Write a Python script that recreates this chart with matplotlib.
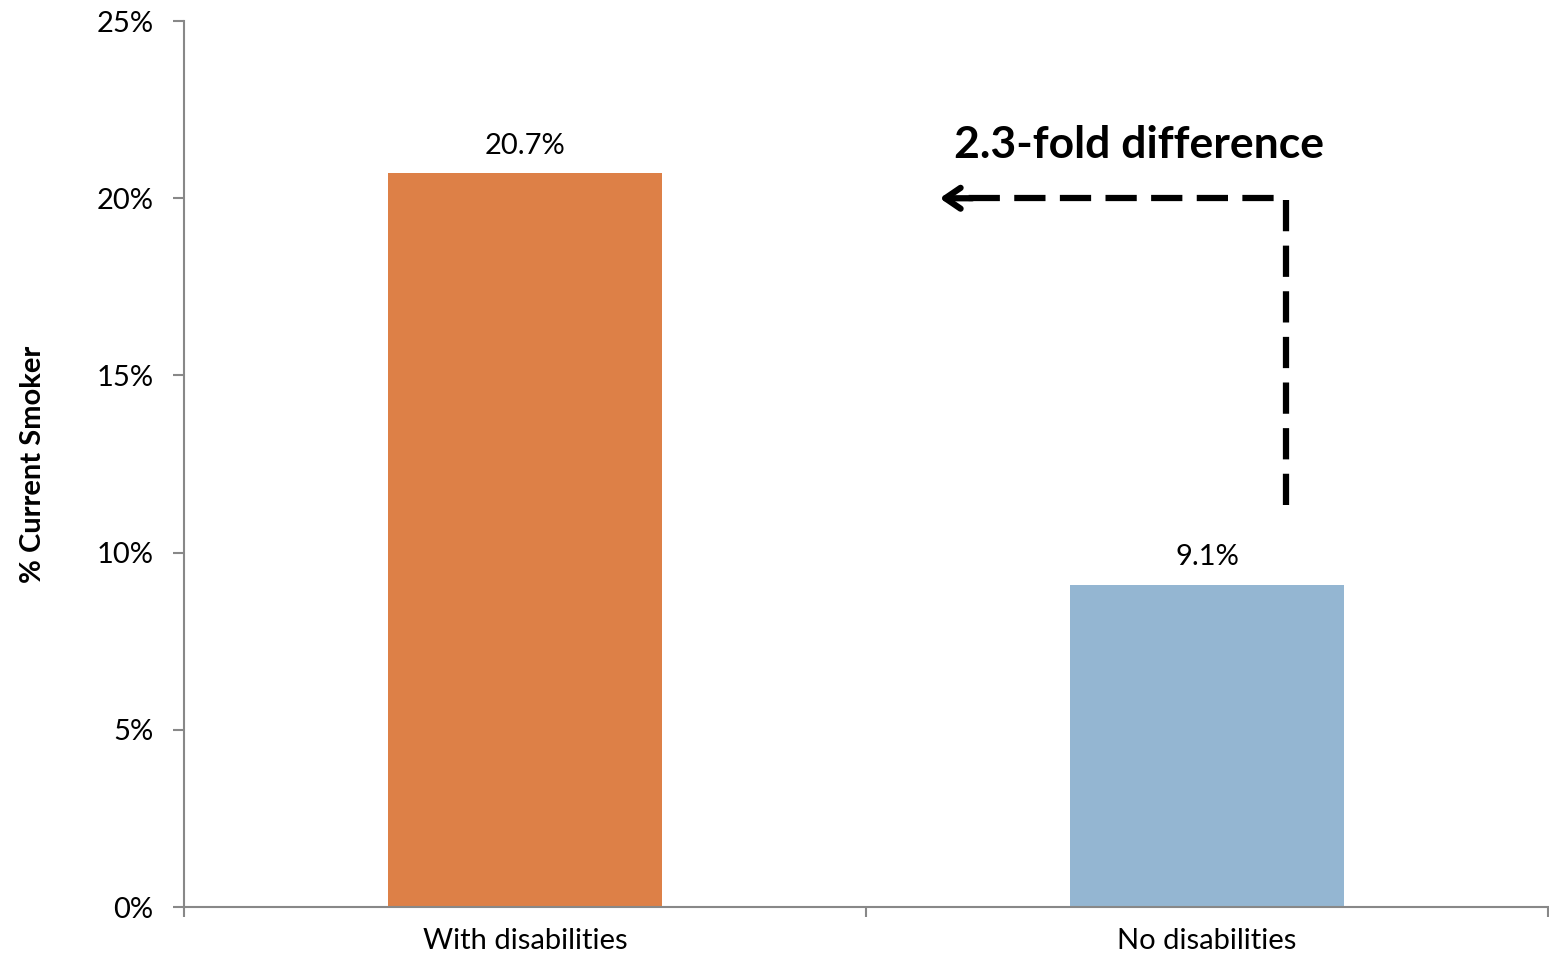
import matplotlib
matplotlib.use('Agg')
import matplotlib.pyplot as plt

categories = ["With disabilities", "No disabilities"]
values = [20.7, 9.1]
bar_colors = ["#DD8047", "#94B6D2"]
yticks = [0, 5, 10, 15, 20, 25]

plt.rcParams['font.family'] = ['Lato', 'DejaVu Sans']

fig = plt.figure(figsize=(15.49, 9.57), dpi=100)
ax = fig.add_axes([0.1188, 0.0522, 0.8806, 0.9258])

x = range(len(categories))
ax.bar(x, values, width=0.402, color=bar_colors, zorder=2)
for xi, v in zip(x, values):
    ax.text(xi, v + 0.4, f"{v}%", ha='center', va='bottom', fontsize=21)

ax.set_xlim(-0.5, 1.5)
ax.set_ylim(0, 25)
ax.set_yticks(yticks)
ax.set_yticklabels([f"{t}%" for t in yticks], fontsize=21)
ax.set_xticks([-0.5, 0.5, 1.5])
ax.set_xticklabels([])
ax.set_xticks(list(x), minor=True)
ax.set_xticklabels(categories, minor=True, fontsize=21)
ax.tick_params(axis='x', which='major', length=7, color='#888888', width=1.5)
ax.tick_params(axis='x', which='minor', length=0, pad=15)
ax.tick_params(axis='y', length=8, color='#888888', width=1.5, pad=14)

for s in ['top', 'right']:
    ax.spines[s].set_visible(False)
for s in ['left', 'bottom']:
    ax.spines[s].set_color('#888888')
    ax.spines[s].set_linewidth(1.5)

ax.set_ylabel("% Current Smoker", fontsize=21, fontweight='bold', labelpad=36)

# dashed elbow arrow
ax.plot([1.116, 1.116, 0.64], [11.35, 20.0, 20.0], color='black', lw=4.5,
        linestyle=(0, (5, 2.3)), solid_capstyle='butt', dash_capstyle='butt', zorder=3)
ax.annotate("", xy=(0.604, 20.0), xytext=(0.66, 20.0),
            arrowprops=dict(arrowstyle='->,head_length=1.1,head_width=0.75',
                            color='black', lw=4.5), zorder=3)
ax.text(0.9, 21.5, "2.3-fold difference", ha='center', va='center',
        fontsize=32, fontweight='bold')

fig.savefig('out.png', dpi=100)
